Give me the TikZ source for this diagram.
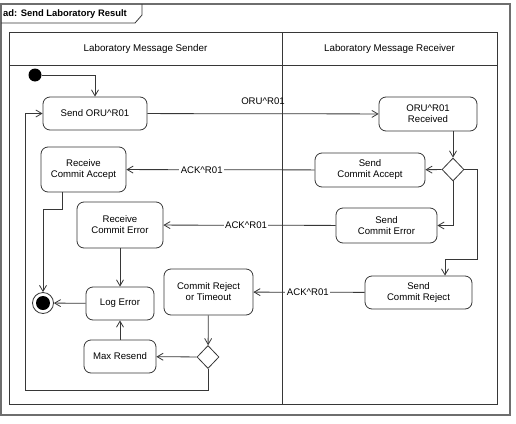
\documentclass[tikz,border=0pt]{standalone}
\usepackage{fontspec}
\setmainfont{Liberation Sans}
\usetikzlibrary{arrows.meta,shapes.geometric}
\definecolor{ln}{RGB}{55,55,55}
\definecolor{fr}{RGB}{110,110,110}
\tikzset{
  act/.style={draw=ln,line width=0.8pt,rounded corners=7pt,align=center,font=\fontsize{9.6}{11}\selectfont,inner sep=1pt},
  dec/.style={draw=ln,line width=0.8pt,diamond,minimum width=22pt,minimum height=23pt,inner sep=0pt,fill=white},
  arr/.style={draw=ln,line width=0.8pt,-{Straight Barb[length=6pt,width=7pt]}},
  lnk/.style={draw=ln,line width=0.8pt},
  lbl/.style={fill=white,inner sep=1.5pt,font=\fontsize{9.6}{11}\selectfont},
  hdr/.style={font=\fontsize{9.8}{12}\selectfont},
}
\begin{document}
\begin{tikzpicture}[x=1pt,y=-1pt]
\useasboundingbox (0,0) rectangle (516,423);
\fill[white] (0,0) rectangle (516,423);
% outer frame
\draw[fr,line width=1.3pt] (1,4) rectangle (510,415);
\draw[ln,line width=0.8pt] (1,23) -- (135,23) -- (142,15) -- (142,4);
\node[font=\bfseries\fontsize{9.4}{11}\selectfont,anchor=west,inner sep=0pt] (title) at (3,14) {ad: Send Laboratory Result};
% swimlanes
\draw[ln,line width=0.8pt] (9,32) rectangle (497,404);
\draw[ln,line width=0.8pt] (9,65) -- (497,65);
\draw[ln,line width=0.8pt] (282,32) -- (282,404);
\node[hdr] (h1) at (145.5,48.5) {Laboratory Message Sender};
\node[hdr] (h2) at (389.5,48.5) {Laboratory Message Receiver};
% nodes
\node[circle,fill=black,minimum size=13pt,inner sep=0pt] (init) at (35,75) {};
\node[act,minimum width=104pt,minimum height=33pt] (sendoru) at (95,113.5) {Send ORU\^{}R01};
\node[act,minimum width=98pt,minimum height=34pt] (orurec) at (428,114) {ORU\^{}R01\\Received};
\node[dec] (d1) at (453,169.5) {};
\node[act,minimum width=110pt,minimum height=34pt] (sendacc) at (370,170) {Send\\Commit Accept};
\node[act,minimum width=101pt,minimum height=35pt] (senderr) at (386.5,225.5) {Send\\Commit Error};
\node[act,minimum width=107pt,minimum height=33pt] (sendrej) at (418.5,292.5) {Send\\Commit Reject};
\node[act,minimum width=85pt,minimum height=45pt] (recacc) at (83.5,169.5) {Receive\\Commit Accept};
\node[act,minimum width=86pt,minimum height=46pt] (recerr) at (120,225) {Receive\\Commit Error};
\node[act,minimum width=68pt,minimum height=33pt] (logerr) at (120,303.5) {Log Error};
\node[act,minimum width=72pt,minimum height=33pt] (maxres) at (120,356.5) {Max Resend};
\node[act,minimum width=89pt,minimum height=46pt] (rejto) at (208.5,292) {Commit Reject\\or Timeout};
\node[dec] (d2) at (208,357) {};
\node[circle,draw=ln,line width=0.8pt,fill=white,minimum size=21pt,inner sep=0pt] (final) at (43,303) {};
\node[circle,fill=black,minimum size=14pt,inner sep=0pt] (finalin) at (43,303) {};
% connectors
\draw[arr] (init) -| (sendoru);
\draw[arr] (sendoru) -- (orurec);
\node[font=\fontsize{9.6}{11}\selectfont] (lab1) at (263,101.5) {ORU\^{}R01};
\draw[arr] (d1.north |- orurec.south) -- (d1.north);
\draw[arr] (d1) -- (sendacc);
\draw[arr] (d1.south) |- (senderr.east);
\coordinate (k1) at (477,259);
\coordinate (k2) at (445,259);
\draw[arr] (d1.east) -| (k1) -- (k2) -- (k2 |- sendrej.north);
\draw[arr] (sendacc) -- node[lbl,pos=0.6] {ACK\^{}R01} (recacc);
\draw[arr] (senderr) -- node[lbl,pos=0.52] {ACK\^{}R01} (recerr);
\draw[arr] (sendrej) -- node[lbl,pos=0.51] {ACK\^{}R01} (rejto);
\coordinate (k3) at (62,209);
\draw[arr] (k3 |- recacc.south) -- (k3) -| (final.north);
\draw[arr] (recerr) -- (logerr);
\draw[arr] (logerr) -- (final);
\draw[arr] (maxres) -- (logerr);
\draw[arr] (rejto) -- (d2);
\draw[arr] (d2) -- (maxres);
\coordinate (k4) at (25,390);
\draw[arr] (d2.south) |- (k4) |- (sendoru.west);
\end{tikzpicture}
\end{document}
